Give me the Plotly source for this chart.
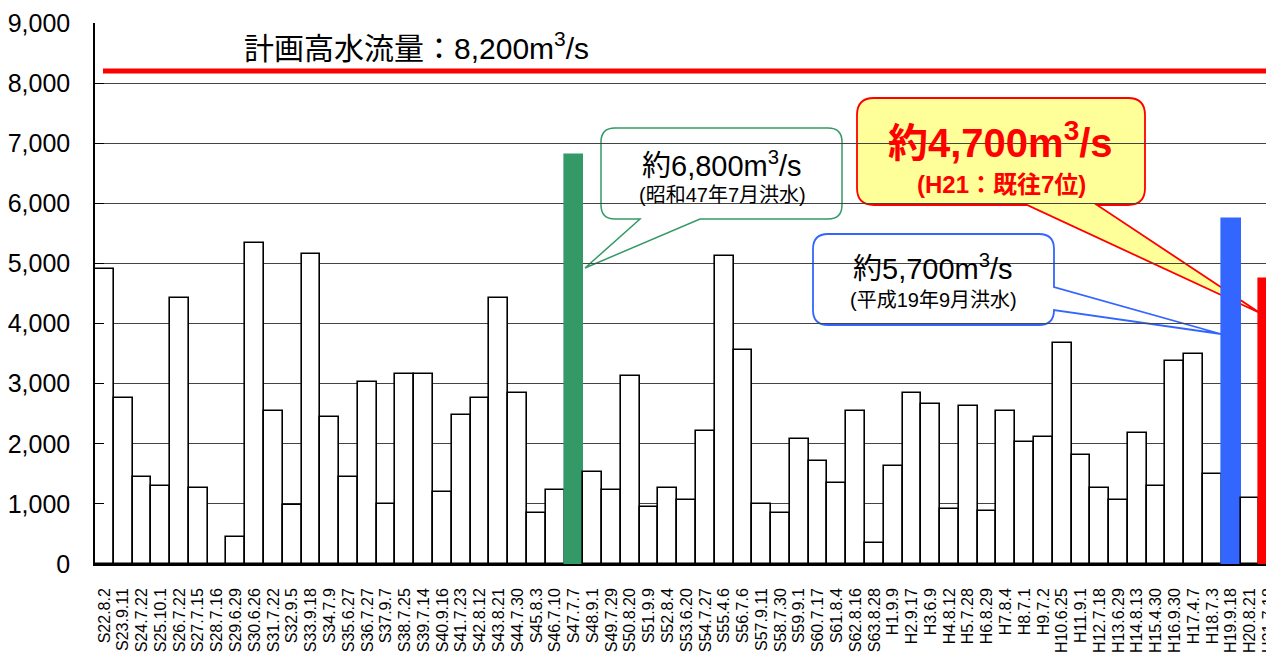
import plotly.graph_objects as go

# ---------------- data ----------------
categories = [
    "S22.8.2", "S23.9.11", "S24.7.22", "S25.10.1", "S26.7.22", "S27.7.15", "S28.7.16", "S29.6.29",
    "S30.6.26", "S31.7.22", "S32.9.5", "S33.9.18", "S34.7.9", "S35.6.27", "S36.7.27", "S37.9.7",
    "S38.7.25", "S39.7.14", "S40.9.16", "S41.7.23", "S42.8.12", "S43.8.21", "S44.7.30", "S45.8.3",
    "S46.7.10", "S47.7.7", "S48.9.1", "S49.7.29", "S50.8.20", "S51.9.9", "S52.8.4", "S53.6.20",
    "S54.7.27", "S55.4.6", "S56.7.6", "S57.9.11", "S58.7.30", "S59.9.1", "S60.7.17", "S61.8.4",
    "S62.8.16", "S63.8.28", "H1.9.9", "H2.9.17", "H3.6.9", "H4.8.12", "H5.7.28", "H6.8.29",
    "H7.8.4", "H8.7.1", "H9.7.2", "H10.6.25", "H11.9.1", "H12.7.18", "H13.6.29", "H14.8.13",
    "H15.4.30", "H16.9.30", "H17.4.7", "H18.7.3", "H19.9.18", "H20.8.21", "H21.7.18",
]
peak_flow = [
    4910, 2760, 1440, 1290, 4420, 1260, 0, 455,
    5335, 2545, 980, 5160, 2450, 1440, 3035, 1005,
    3155, 3155, 1190, 2480, 2760, 4420, 2850, 855,
    1225, 6800, 1530, 1225, 3135, 955, 1260, 1070,
    2215, 5130, 3560, 1005, 855, 2085, 1720, 1350,
    2545, 345, 1625, 2850, 2670, 920, 2635, 890,
    2545, 2025, 2115, 3675, 1810, 1260, 1070, 2180,
    1290, 3375, 3495, 1505, 5740, 1105, 4740,
]
PLAN = 8200
highlight = {"S47.7.7": "#339966", "H19.9.18": "#3366FF", "H21.7.18": "#FF0000"}
y_ticks = list(range(0, 9001, 1000))

# ---------------- layout geometry (page pixels) ----------------
OFF = 8                      # page body margin around the figure
PAGE_W, PAGE_H = 1274, 659
L, R, T, B = 95, 1274, 23, 564   # plot area in page pixels
PW, PH = R - L, B - T
FIG_W, FIG_H = PAGE_W - OFF, PAGE_H - OFF


def P(x, y):
    return f"{(x - L) / PW:.5f},{(B - y) / PH:.5f}"


def callout_bottom(l, t, r, b, rad, n1, n2, tip):
    return (f"M{P(l + rad, t)} L{P(r - rad, t)} Q{P(r, t)} {P(r, t + rad)} "
            f"L{P(r, b - rad)} Q{P(r, b)} {P(r - rad, b)} L{P(n2, b)} L{P(*tip)} "
            f"L{P(n1, b)} L{P(l + rad, b)} Q{P(l, b)} {P(l, b - rad)} "
            f"L{P(l, t + rad)} Q{P(l, t)} {P(l + rad, t)} Z")


def callout_right(l, t, r, b, rad, n1, n2, tip):
    return (f"M{P(l + rad, t)} L{P(r - rad, t)} Q{P(r, t)} {P(r, t + rad)} "
            f"L{P(r, n1)} L{P(*tip)} L{P(r, n2)} "
            f"L{P(r, b - rad)} Q{P(r, b)} {P(r - rad, b)} "
            f"L{P(l + rad, b)} Q{P(l, b)} {P(l, b - rad)} "
            f"L{P(l, t + rad)} Q{P(l, t)} {P(l + rad, t)} Z")


fill_colors = [highlight.get(c, "white") for c in categories]
line_colors = [highlight.get(c, "black") for c in categories]

fig = go.Figure(go.Bar(
    x=categories, y=peak_flow,
    marker=dict(color=fill_colors, line=dict(color=line_colors, width=1.6)),
    hoverinfo="x+y", cliponaxis=True,
))

cat_w = PW / 62.78
fig.update_layout(
    width=FIG_W, height=FIG_H,
    margin=dict(l=L - OFF, r=PAGE_W - R, t=T - OFF, b=PAGE_H - B, autoexpand=False),
    paper_bgcolor="white", plot_bgcolor="white",
    bargap=0, showlegend=False,
    font=dict(family="Liberation Sans, Arial, sans-serif", color="black"),
    xaxis=dict(
        type="category", range=[-0.5, -0.5 + PW / cat_w],
        tickmode="array", tickvals=categories, ticktext=categories,
        tickangle=-90, tickfont=dict(size=16, family="Liberation Sans, Arial"),
        showline=True, linecolor="black", linewidth=1.5,
        showgrid=False, ticks="", ticklabelstandoff=16,
        fixedrange=True, automargin=False,
    ),
    yaxis=dict(
        range=[0, 9000], tickvals=y_ticks, tickformat=",",
        tickfont=dict(size=25, family="Liberation Sans, Arial"),
        showline=True, linecolor="black", linewidth=1.5,
        showgrid=True, gridcolor="#444444", gridwidth=1,
        ticks="inside", ticklen=9, tickcolor="black", tickwidth=1,
        ticklabelstandoff=18, zeroline=False, automargin=False,
    ),
)

shapes = []
# plan high-water discharge line
shapes.append(dict(type="line", xref="paper", yref="y",
                   x0=(103 - L) / PW, x1=(1270 - L) / PW, y0=PLAN, y1=PLAN,
                   line=dict(color="#FF0000", width=5), layer="above"))
# green callout (S47)
shapes.append(dict(type="path", xref="paper", yref="paper", layer="between",
                   path=callout_bottom(601, 128, 842, 219, 14, 640, 700, (585, 268)),
                   line=dict(color="#339966", width=1.5), fillcolor="rgba(0,0,0,0)"))
# blue callout (H19)
shapes.append(dict(type="path", xref="paper", yref="paper", layer="between",
                   path=callout_right(813, 234, 1054, 325, 15, 287, 310, (1221, 334)),
                   line=dict(color="#3366FF", width=1.8), fillcolor="white"))
# yellow callout (H21)
shapes.append(dict(type="path", xref="paper", yref="paper", layer="between",
                   path=callout_bottom(857, 98, 1145, 205, 17, 1027, 1097, (1260, 313)),
                   line=dict(color="#FF0000", width=1.8), fillcolor="#FFFF99"))
fig.update_layout(shapes=shapes)

JP = "Liberation Sans, Noto Sans CJK JP, sans-serif"


def ann(text, x, y, size, color="black", bold=False):
    return dict(text=text, xref="paper", yref="paper",
                x=(x - L) / PW, y=(B - y) / PH, xanchor="center", yanchor="middle",
                showarrow=False,
                font=dict(size=size, color=color, family=JP, weight="bold" if bold else "normal"))


annotations = [
    ann("計画高水流量：8,200m<sup>3</sup>/s", 416, 46, 30),
    ann("約6,800m<sup>3</sup>/s", 722, 164, 29),
    ann("(昭和47年7月洪水)", 722, 195, 20),
    ann("約5,700m<sup>3</sup>/s", 933, 267, 29),
    ann("(平成19年9月洪水)", 933, 300, 20),
    ann("約4,700m<sup>3</sup>/s", 1000, 140, 40, "#FF0000", True),
    ann("(H21：既往7位)", 1001, 184, 24, "#FF0000", True),
]
fig.update_layout(annotations=annotations)

fig.write_html("out.html")
